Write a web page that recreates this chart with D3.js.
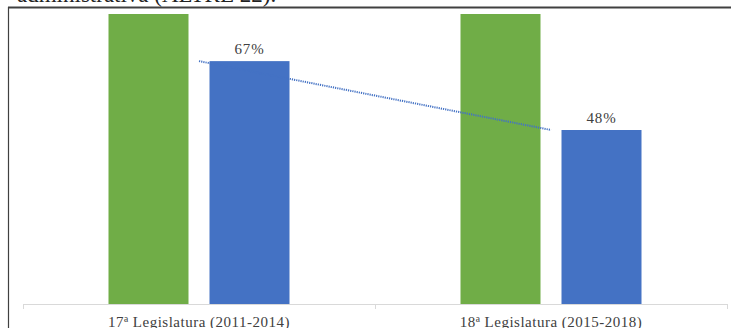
<!DOCTYPE html>
<meta charset="utf-8">
<style>
  body { margin: 0; background: #fff; }
  svg { display: block; }
  text { font-family: "Liberation Serif", "DejaVu Serif", serif; }
</style>
<body>
<div id="canvas"></div>
</body>
<script src="https://d3js.org/d3.v7.min.js"></script>
<script>
// data
var categories = ["17ª Legislatura (2011-2014)", "18ª Legislatura (2015-2018)"];
var greenValues = [100, 100];   // tall bars, run past the top of the plot
var blueValues = [67, 48];
var blueLabels = ["67%", "48%"];
var seriesNames = ["green", "blue"];
var headingText = "administrativa (ALTRE 22).";

var W = 731, H = 328;
var plot = {left: 23, right: 727, top: 14, bottom: 304};

var svg = d3.select("#canvas").append("svg")
    .attr("width", W)
    .attr("height", H);

// the document text cut off above the chart (it is cut in the source too)
svg.append("text")
    .attr("x", 17)
    .attr("y", 2)
    .attr("font-size", 23)
    .attr("fill", "#222")
    .text(headingText);

// frame of the chart object
svg.append("line")
    .attr("x1", 8).attr("x2", W)
    .attr("y1", 7.5).attr("y2", 7.5)
    .attr("stroke", "#404040").attr("stroke-width", 2);
svg.append("line")
    .attr("x1", 8.5).attr("x2", 8.5)
    .attr("y1", 7).attr("y2", H)
    .attr("stroke", "#404040").attr("stroke-width", 1.2);

//scales
var x = d3.scaleBand()
    .domain(categories)
    .range([plot.left, plot.right])
    .padding(0);

var groupW = 181;
var xSub = d3.scaleBand()
    .domain(seriesNames)
    .range([0, groupW])
    .paddingInner(21 / 101)
    .paddingOuter(0);

var y = d3.scaleLinear()
    .domain([0, 80])
    .range([plot.bottom, plot.top])
    .clamp(true);

var colors = {green: "#70AD47", blue: "#4472C4"};

function groupStart(c) {
    return x(c) + (x.bandwidth() - groupW) / 2;
}

var g = svg.append("g");

// bars
var rows = categories.map(function(c, i) {
    return [
        {cat: c, s: "green", v: greenValues[i]},
        {cat: c, s: "blue", v: blueValues[i]}
    ];
});

g.selectAll("rect")
    .data(d3.merge(rows))
    .enter()
    .append("rect")
        .attr("x", function(d){ return groupStart(d.cat) + xSub(d.s); })
        .attr("y", function(d){ return y(d.v); })
        .attr("width", xSub.bandwidth())
        .attr("height", function(d){ return plot.bottom - y(d.v); })
        .attr("fill", function(d){ return colors[d.s]; });

// linear trendline on the blue series
var n = blueValues.length;
var xs = d3.range(n), mx = d3.mean(xs), my = d3.mean(blueValues);
var slope = d3.sum(xs, function(k){ return (k - mx) * (blueValues[k] - my); }) /
            d3.sum(xs, function(k){ return (k - mx) * (k - mx); });
var icpt = my - slope * mx;

g.append("line")
    .attr("x1", x(categories[0]) + x.bandwidth() / 2)
    .attr("y1", y(icpt))
    .attr("x2", x(categories[n - 1]) + x.bandwidth() / 2)
    .attr("y2", y(icpt + slope * (n - 1)))
    .attr("stroke", "#4472C4")
    .attr("stroke-width", 2)
    .attr("stroke-dasharray", "1.2,1");

// value labels
g.selectAll(".lbl")
    .data(blueValues)
    .enter()
    .append("text")
        .attr("class", "lbl")
        .attr("x", function(d, i){ return groupStart(categories[i]) + xSub("blue") + xSub.bandwidth() / 2; })
        .attr("y", function(d){ return y(d) - 7; })
        .attr("text-anchor", "middle")
        .attr("font-size", 15)
        .attr("letter-spacing", 0.8)
        .attr("fill", "#404040")
        .text(function(d, i){ return blueLabels[i]; });

// axis
var xAxis = svg.append("g")
    .attr("transform", "translate(0," + plot.bottom + ")")
    .call(d3.axisBottom(x).tickSize(0).tickPadding(12));
xAxis.select(".domain").attr("stroke", "#d9d9d9");
xAxis.selectAll("text")
    .attr("font-size", 15)
    .attr("letter-spacing", 0.5)
    .attr("font-family", "Liberation Serif, serif")
    .attr("fill", "#404040");

// boundary ticks between categories
var edges = categories.map(function(c){ return x(c); }).concat([plot.right]);
svg.selectAll(".edge")
    .data(edges)
    .enter()
    .append("line")
        .attr("class", "edge")
        .attr("x1", function(d){ return Math.round(d) + 0.5; })
        .attr("x2", function(d){ return Math.round(d) + 0.5; })
        .attr("y1", plot.bottom)
        .attr("y2", plot.bottom + 5)
        .attr("stroke", "#d9d9d9");
</script>
